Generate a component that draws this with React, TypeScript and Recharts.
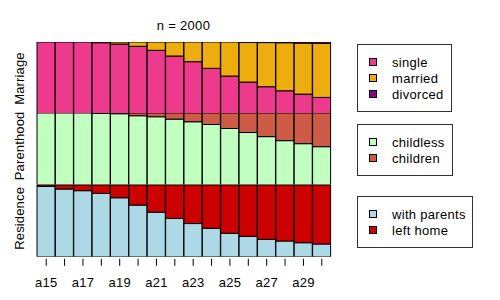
import React from 'react';
import { BarChart, Bar, XAxis, YAxis } from 'recharts';

const ages = ['a15','a16','a17','a18','a19','a20','a21','a22','a23','a24','a25','a26','a27','a28','a29','a30'];

const single = [1.0, 1.0, 1.0, 0.99, 0.972, 0.94, 0.884, 0.805, 0.726, 0.633, 0.526, 0.442, 0.377, 0.321, 0.274, 0.228];
const married = [0, 0, 0, 0.01, 0.028, 0.06, 0.116, 0.195, 0.274, 0.367, 0.474, 0.555, 0.615, 0.669, 0.711, 0.752];
const divorced = [0, 0, 0, 0, 0, 0, 0, 0, 0, 0, 0, 0.003, 0.008, 0.01, 0.015, 0.02];

const childless = [1.0, 1.0, 1.0, 0.995, 0.99, 0.962, 0.948, 0.915, 0.878, 0.84, 0.784, 0.728, 0.671, 0.615, 0.573, 0.531];
const children = [0, 0, 0, 0.005, 0.01, 0.038, 0.052, 0.085, 0.122, 0.16, 0.216, 0.272, 0.329, 0.385, 0.427, 0.469];

const withParents = [0.981, 0.944, 0.921, 0.883, 0.822, 0.72, 0.621, 0.533, 0.463, 0.397, 0.327, 0.285, 0.243, 0.22, 0.196, 0.178];
const leftHome = [0.019, 0.056, 0.079, 0.117, 0.178, 0.28, 0.379, 0.467, 0.537, 0.603, 0.673, 0.715, 0.757, 0.78, 0.804, 0.822];

const title = 'n = 2000';
const channelLabel = 'Residence Parenthood Marriage';

const marriageLegend = ['single', 'married', 'divorced'];
const parentLegend = ['childless', 'children'];
const residenceLegend = ['with parents', 'left home'];

const C = {
  single: '#EE3A8C',
  married: '#EEAD0E',
  divorced: '#8B008B',
  childless: '#C1FFC1',
  children: '#CD5B45',
  withParents: '#ADD8E6',
  leftHome: '#CD0000',
};

const marriageData = ages.map((a, i) => ({ age: a, single: single[i], married: married[i], divorced: divorced[i] }));
const parentData = ages.map((a, i) => ({ age: a, childless: childless[i], children: children[i] }));
const residenceData = ages.map((a, i) => ({ age: a, withParents: withParents[i], leftHome: leftHome[i] }));

const FONT = '"Liberation Sans", Arial, sans-serif';
const FS = 13;
const LS = 0.3;
const PLOT_LEFT = 36.5;
const PLOT_W = 294;
const PANEL_TOP = 41.5;
const PANEL_H = 71.8;
const PAD = 20;

const margin = { top: 0, right: PAD, bottom: 0, left: PAD };

const AgeTick = (props: any) => {
  const { x, y, payload, index } = props;
  return (
    <g>
      <line x1={x} x2={x} y1={y + 2} y2={y + 9} stroke="#000" strokeWidth={1} />
      {index % 2 === 0 ? (
        <text x={x} y={y + 30.5} textAnchor="middle" fontSize={FS} letterSpacing={LS} fontFamily={FONT} fill="#000">
          {payload.value}
        </text>
      ) : null}
    </g>
  );
};

const LegendBox = ({ x, y, w, h, items, colors }: { x: number; y: number; w: number; h: number; items: string[]; colors: string[] }) => {
  const n = items.length;
  const step = 16;
  const startY = y + h / 2 - ((n - 1) * step) / 2;
  return (
    <g>
      <rect x={x} y={y} width={w} height={h} fill="#fff" stroke="#333" strokeWidth={1} />
      {items.map((it, i) => (
        <g key={it}>
          <rect x={369.5} y={startY + i * step - 3.5} width={7} height={7} fill={colors[i]} stroke="#000" strokeWidth={1} />
          <text x={392} y={startY + i * step + 4.6} fontSize={FS} letterSpacing={LS} fontFamily={FONT} fill="#000">
            {it}
          </text>
        </g>
      ))}
    </g>
  );
};

export default function App() {
  const barProps = { stackId: 's', stroke: '#000', strokeWidth: 1, isAnimationActive: false } as const;
  const W = PLOT_W + 2 * PAD;
  return (
    <div style={{ position: 'absolute', left: 0, top: 0, width: 500, height: 300, background: '#fff' }}>
      <div style={{ position: 'absolute', left: PLOT_LEFT - PAD, top: PANEL_TOP }}>
        <BarChart width={W} height={PANEL_H} data={marriageData} margin={margin} barCategoryGap={0}>
          <XAxis dataKey="age" hide />
          <YAxis hide domain={[0, 1]} allowDataOverflow />
          <Bar dataKey="single" fill={C.single} {...barProps} />
          <Bar dataKey="married" fill={C.married} {...barProps} />
          <Bar dataKey="divorced" fill={C.divorced} {...barProps} />
        </BarChart>
      </div>
      <div style={{ position: 'absolute', left: PLOT_LEFT - PAD, top: PANEL_TOP + PANEL_H }}>
        <BarChart width={W} height={PANEL_H} data={parentData} margin={margin} barCategoryGap={0}>
          <XAxis dataKey="age" hide />
          <YAxis hide domain={[0, 1]} allowDataOverflow />
          <Bar dataKey="childless" fill={C.childless} {...barProps} />
          <Bar dataKey="children" fill={C.children} {...barProps} />
        </BarChart>
      </div>
      <div style={{ position: 'absolute', left: PLOT_LEFT - PAD, top: PANEL_TOP + 2 * PANEL_H }}>
        <BarChart width={W} height={PANEL_H + 40} data={residenceData} margin={margin} barCategoryGap={0}>
          <XAxis
            dataKey="age"
            height={40}
            interval={0}
            axisLine={false}
            tickLine={false}
            tickSize={0}
            tickMargin={0}
            tick={<AgeTick />}
          />
          <YAxis hide domain={[0, 1]} allowDataOverflow />
          <Bar dataKey="withParents" fill={C.withParents} {...barProps} />
          <Bar dataKey="leftHome" fill={C.leftHome} {...barProps} />
        </BarChart>
      </div>
      <svg width={500} height={300} style={{ position: 'absolute', left: 0, top: 0, pointerEvents: 'none' }}>
        <text x={PLOT_LEFT + PLOT_W / 2} y={29.5} textAnchor="middle" fontSize={FS} letterSpacing={LS} fontFamily={FONT} fill="#000">
          {title}
        </text>
        <text
          x={0}
          y={0}
          transform={`translate(24, 151) rotate(-90)`}
          textAnchor="middle"
          fontSize={FS}
          letterSpacing={0.15}
          wordSpacing={3}
          fontFamily={FONT}
          fill="#000"
        >
          {channelLabel}
        </text>
        <LegendBox x={357.5} y={44.5} w={94} h={67} items={marriageLegend} colors={[C.single, C.married, C.divorced]} />
        <LegendBox x={357.5} y={124.5} w={95} h={51} items={parentLegend} colors={[C.childless, C.children]} />
        <LegendBox x={357.5} y={196.5} w={115} h={51} items={residenceLegend} colors={[C.withParents, C.leftHome]} />
      </svg>
    </div>
  );
}
